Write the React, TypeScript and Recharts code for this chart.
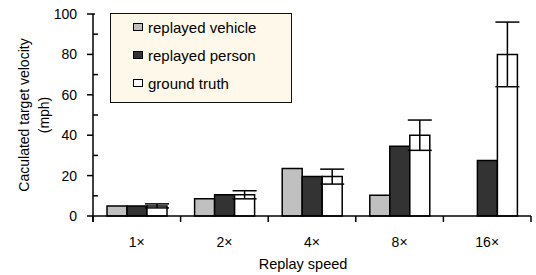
import React from 'react';
import { BarChart, Bar, XAxis, YAxis, ErrorBar } from 'recharts';

const categories = ['1×', '2×', '4×', '8×', '16×'];
const vehicleValues: (number | null)[] = [5, 8.5, 23.5, 10.3, null];
const personValues = [5, 10.5, 19.5, 34.5, 27.5];
const truthValues = [5, 10.5, 19.5, 40, 80];
const truthErrors = [1, 2, 3.7, 7.5, 16];
const yTicks = [0, 10, 20, 30, 40, 50, 60, 70, 80, 90, 100];
const seriesNames = ['replayed vehicle', 'replayed person', 'ground truth'];
const seriesColors = ['#c0c0c0', '#333333', '#ffffff'];

const data = categories.map((c, i) => ({
  name: c,
  vehicle: vehicleValues[i],
  person: personValues[i],
  truth: truthValues[i],
  err: truthErrors[i],
}));

const FONT = '"Liberation Sans", Arial, Helvetica, sans-serif';

const YTick = (props: any) => {
  const { x, y, payload } = props;
  const v = payload.value as number;
  const major = v % 20 === 0;
  return (
    <g>
      {major ? (
        <line x1={x - 6} x2={v === 100 ? x + 2 : x} y1={y} y2={y} stroke="#000" strokeWidth={1.5} />
      ) : (
        <line x1={x} x2={x + 5} y1={y} y2={y} stroke="#000" strokeWidth={1.5} />
      )}
      {v === 0 && <line x1={x} x2={x} y1={y} y2={y + 6} stroke="#000" strokeWidth={1.5} />}
      {major && (
        <text x={x - 16} y={y} textAnchor="end" dominantBaseline="central" fontFamily={FONT} fontSize={14} fill="#000">
          {v}
        </text>
      )}
    </g>
  );
};

const XTick = (props: any) => {
  const { x, y, payload, index, visibleTicksCount } = props;
  const count = visibleTicksCount ?? categories.length;
  const bw = 438 / count;
  return (
    <g>
      <line x1={x - bw / 2} x2={x - bw / 2} y1={y} y2={y + 6} stroke="#000" strokeWidth={1.5} />
      {index === count - 1 && <line x1={x + bw / 2} x2={x + bw / 2} y1={y} y2={y + 6} stroke="#000" strokeWidth={1.5} />}
      <text x={x} y={y + 25.5} textAnchor="middle" dominantBaseline="central" fontFamily={FONT} fontSize={14} fill="#000">
        {payload.value}
      </text>
    </g>
  );
};

const YLabel = () => (
  <g>
    <text x={24} y={115} transform="rotate(-90, 24, 115)" textAnchor="middle" dominantBaseline="central" fontFamily={FONT} fontSize={14} fill="#000">
      Caculated target velocity
    </text>
    <text x={44} y={115} transform="rotate(-90, 44, 115)" textAnchor="middle" dominantBaseline="central" fontFamily={FONT} fontSize={14} fill="#000">
      (mph)
    </text>
  </g>
);

const XLabel = () => (
  <text x={303} y={264} textAnchor="middle" dominantBaseline="central" fontFamily={FONT} fontSize={14.5} fill="#000">
    Replay speed
  </text>
);

export default function App() {
  return (
    <div style={{ position: 'absolute', left: 0, top: 0, width: 536, height: 275, background: '#fff' }}>
      <BarChart
        width={536}
        height={275}
        data={data}
        margin={{ top: 14, right: 5, left: 43, bottom: 29 }}
        barCategoryGap={14}
        barGap={0}
      >
        <XAxis
          dataKey="name"
          height={30}
          axisLine={{ stroke: '#000', strokeWidth: 1.5 }}
          tickLine={false}
          tickSize={0}
          tickMargin={0}
          tick={<XTick />}
          interval={0}
        />
        <YAxis
          width={50}
          domain={[0, 100]}
          ticks={yTicks}
          interval={0}
          axisLine={{ stroke: '#000', strokeWidth: 1.5 }}
          tickLine={false}
          tickSize={0}
          tickMargin={0}
          tick={<YTick />}
          label={<YLabel />}
        />
        <Bar dataKey="vehicle" fill={seriesColors[0]} stroke="#000" strokeWidth={1.5} isAnimationActive={false} />
        <Bar dataKey="person" fill={seriesColors[1]} stroke="#000" strokeWidth={1.5} isAnimationActive={false} />
        <Bar dataKey="truth" fill={seriesColors[2]} stroke="#000" strokeWidth={1.5} isAnimationActive={false}>
          <ErrorBar dataKey="err" width={12} stroke="#000" strokeWidth={1.5} isAnimationActive={false} />
        </Bar>
        <XLabel />
      </BarChart>
      <div
        style={{
          position: 'absolute',
          left: 110,
          top: 13,
          width: 182,
          height: 90,
          boxSizing: 'border-box',
          border: '1.5px solid #111',
          background: '#fdf8ea',
          fontFamily: FONT,
          fontSize: 15,
        }}
      >
        {seriesNames.map((n, i) => (
          <div key={n} style={{ position: 'absolute', left: 22, top: 3 + i * 28, height: 20, display: 'flex', alignItems: 'center', whiteSpace: 'nowrap' }}>
            <span
              style={{
                display: 'inline-block',
                width: 8,
                height: 6,
                border: '1.5px solid #000',
                background: seriesColors[i],
                marginRight: 5,
              }}
            />
            <span>{n}</span>
          </div>
        ))}
      </div>
    </div>
  );
}
